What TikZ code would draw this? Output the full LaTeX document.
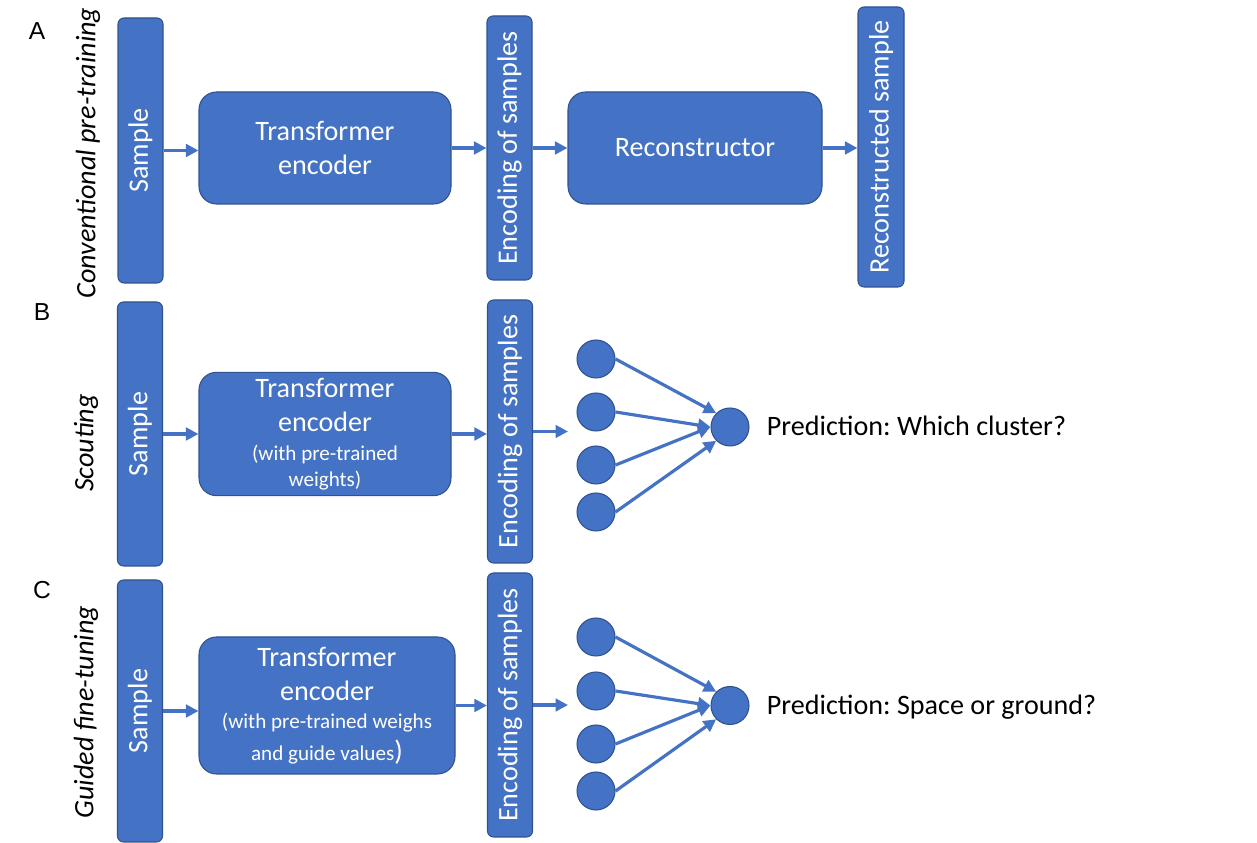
\documentclass[tikz,border=0pt]{standalone}
\usepackage{fontspec}
\setmainfont{Carlito}
\newfontfamily\tagfont{Liberation Sans}
\usepackage{graphicx}
\usetikzlibrary{arrows.meta,positioning}
\definecolor{boxblue}{HTML}{4472C4}
\definecolor{boxedge}{HTML}{2F528F}
\newcommand{\bigfnt}{\fontsize{16}{19.5}\selectfont}
\newcommand{\smallfnt}{\fontsize{12}{14.5}\selectfont}
\frenchspacing

\begin{document}
\begin{tikzpicture}[
  bar/.style={draw=boxedge, line width=0.6pt, fill=boxblue, rounded corners=3.4pt, minimum width=0.9cm, minimum height=5.28cm, inner sep=0pt, text=white, font=\bigfnt},
  blk/.style={draw=boxedge, line width=0.6pt, fill=boxblue, rounded corners=10pt, minimum width=5.04cm, minimum height=2.24cm, align=center, text=white, font=\bigfnt},
  unit/.style={circle, draw=boxedge, line width=0.6pt, fill=boxblue, minimum size=0.76cm, inner sep=0pt},
  flow/.style={draw=boxblue, line width=1.8pt, -{Triangle[length=0.25cm, width=0.25cm]}},
  tag/.style={font=\tagfont\fontsize{14}{16}\selectfont},
  phase/.style={rotate=90, font=\bigfnt\itshape},
  pred/.style={anchor=base west, inner sep=0pt, font=\bigfnt}
]
  \useasboundingbox (0,0) rectangle (25.14,16.86);

  % A: conventional pre-training
  \node[tag] (tagA) at (0.74,16.24) {A};
  \node[phase] (phA) at (1.76,13.80) {Conventional pre-training};
  \node[bar, minimum height=5.3cm] (sampleA) at (2.81,13.85) {\rotatebox{90}{Sample}};
  \node[blk] (encA) at (6.50,13.90) {Transformer\\encoder};
  \node[bar] (codeA) at (10.19,13.90) {\rotatebox{90}{Encoding of samples}};
  \node[blk, minimum width=5.08cm] (recA) at (13.90,13.90) {Reconstructor};
  \node[bar, minimum width=0.92cm, minimum height=5.6cm] (outA) at (17.62,13.92) {\rotatebox{90}{Reconstructed sample}};

  \draw[flow] (sampleA.east) -- (sampleA.east -| encA.west);
  \draw[flow] (encA.east) -- (encA.east -| codeA.west);
  \draw[flow] (codeA.east) -- (codeA.east -| recA.west);
  \draw[flow] (recA.east) -- (recA.east -| outA.west);

  % B: scouting
  \node[tag] (tagB) at (0.84,10.62) {B};
  \node[phase] (phB) at (1.72,8.0) {Scouting};
  \node[bar] (sampleB) at (2.80,8.18) {\rotatebox{90}{Sample}};
  \node[blk, minimum height=2.36cm] (encB) at (6.50,8.18) {Transformer\\encoder\\[-3pt]{\smallfnt (with pre-trained}\\[-5pt]{\smallfnt weights)}};
  \node[bar, minimum height=5.26cm] (codeB) at (10.20,8.23) {\rotatebox{90}{Encoding of samples}};
  \coordinate (inB) at (11.36,8.23);
  \node[unit] (b1) at (11.92,9.68) {};
  \node[unit] (b2) at (11.92,8.62) {};
  \node[unit] (b3) at (11.92,7.56) {};
  \node[unit] (b4) at (11.92,6.62) {};
  \node[unit] (outB) at (14.60,8.32) {};
  \node[pred] (predB) at ([xshift=0.34cm, yshift=-0.18cm]outB.east) {Prediction: Which cluster?};

  \draw[flow] (sampleB.east) -- (sampleB.east -| encB.west);
  \draw[flow] (encB.east) -- (encB.east -| codeB.west);
  \draw[flow] (codeB.east) -- (inB);
  \draw[flow] (b1.east) -- (outB.north west);
  \draw[flow] (b2.east) -- (outB.west);
  \draw[flow] (b3.east) -- (outB.west);
  \draw[flow] (b4.east) -- (outB.south west);

  % C: guided fine-tuning
  \node[tag] (tagC) at (0.84,5.06) {C};
  \node[phase] (phC) at (1.72,2.62) {Guided fine-tuning};
  \node[bar, minimum height=5.24cm] (sampleC) at (2.80,2.64) {\rotatebox{90}{Sample}};
  \node[blk, minimum width=5.12cm, minimum height=2.74cm] (encC) at (6.54,2.75) {Transformer\\encoder\\[-3.5pt]{\smallfnt (with pre-trained weighs}\\[-1.3pt]{\smallfnt and guide values})};
  \node[bar] (codeC) at (10.20,2.76) {\rotatebox{90}{Encoding of samples}};
  \coordinate (inC) at (11.36,2.76);
  \node[unit] (c1) at (11.92,4.12) {};
  \node[unit] (c2) at (11.92,3.04) {};
  \node[unit] (c3) at (11.92,1.98) {};
  \node[unit] (c4) at (11.92,1.04) {};
  \node[unit] (outC) at (14.60,2.75) {};
  \node[pred] (predC) at ([xshift=0.34cm, yshift=-0.18cm]outC.east) {Prediction: Space or ground?};

  \draw[flow] (sampleC.east) -- (sampleC.east -| encC.west);
  \draw[flow] (encC.east) -- (encC.east -| codeC.west);
  \draw[flow] (codeC.east) -- (inC);
  \draw[flow] (c1.east) -- (outC.north west);
  \draw[flow] (c2.east) -- (outC.west);
  \draw[flow] (c3.east) -- (outC.west);
  \draw[flow] (c4.east) -- (outC.south west);
\end{tikzpicture}
\end{document}
